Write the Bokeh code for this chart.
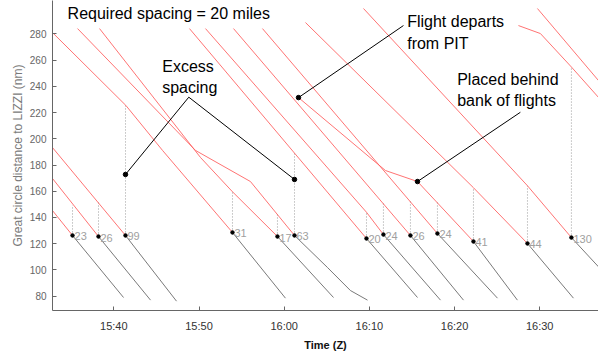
from bokeh.plotting import figure
from bokeh.models import FixedTicker, Range1d
from bokeh.core.properties import value
from bokeh.embed import file_html
from bokeh.resources import INLINE

FONT = "Liberation Sans"

# Time axis is minutes after 15:00 Z
time_ticks = [40, 50, 60, 70, 80, 90]
time_labels = ["15:40", "15:50", "16:00", "16:10", "16:20", "16:30"]
dist_ticks = [80, 100, 120, 140, 160, 180, 200, 220, 240, 260, 280]

# Each flight reaching the merge arc: crossing time, distance and in-trail spacing (nm)
merge_time = [35.15, 38.2, 41.37, 53.93, 59.21, 61.21, 69.66, 71.65, 74.82, 77.99, 82.22, 88.56, 93.72]
merge_dist = [126.3, 125.5, 126.3, 128.6, 125.5, 126.3, 124.0, 127.0, 126.3, 127.8, 121.7, 120.2, 124.7]
spacing = [23, 26, 99, 31, 17, 63, 20, 24, 26, 24, 41, 44, 130]

# Track before the merge arc (red)
approach_time = [
    [32.4],
    [32.4],
    [32.4],
    [32.4, 41.4, 45.72],
    [38.32, 50.18, 53.93],
    [35.74, 49.59, 56.04],
    [48.88],
    [50.76, 69.66],
    [54.05],
    [57.45],
    [61.68, 71.89, 75.65],
    [62.5, 82.22],
    [69.31, 88.56],
]
approach_dist = [
    [148.5],
    [173.0],
    [196.4],
    [283.5, 225.5, 191.1],
    [284.0, 185.7, 159.6],
    [284.0, 191.1, 167.4],
    [284.0],
    [284.0, 144.0],
    [284.0],
    [284.0],
    [231.4, 175.8, 167.4],
    [288.6, 162.7],
    [299.3, 164.2],
]

# Track after the merge arc (grey)
final_time = [
    [41.14], [44.31], [47.36], [60.15], [65.79],
    [65.08, 67.78, 69.78],
    [75.65], [78.35], [81.05], [85.04], [87.38], [93.96], [97.3],
]
final_dist = [
    [79.0], [77.0], [76.2], [78.5], [79.0],
    [101.9, 84.3, 77.0],
    [79.0], [77.0], [77.0], [78.5], [77.0], [78.5], [99.6],
]

# Flights still inbound at the end of the window
inbound_time = [[89.73, 97.3], [87.5, 90.08, 93.72, 97.3]]
inbound_dist = [[299.3, 241.3], [286.3, 280.2, 254.7, 228.6]]

# Call-out texts and leader lines
note_text = ["Required spacing = 20 miles", "Excess", "spacing",
             "Flight departs", "from PIT", "Placed behind", "bank of flights"]
note_x = [34.57, 45.68, 45.68, 74.44, 74.44, 80.31, 80.31]
note_y = [301.6, 261.9, 245.2, 296.2, 279.4, 252.0, 236.0]

leader_x0 = [48.8, 48.8, 74.0, 87.73]
leader_y0 = [231.7, 231.7, 286.3, 220.2]
leader_x1 = [41.37, 61.21, 61.68, 75.65]
leader_y1 = [172.8, 169.0, 231.4, 167.4]

red_xs = [t + [mt] for t, mt in zip(approach_time, merge_time)] + inbound_time
red_ys = [d + [md] for d, md in zip(approach_dist, merge_dist)] + inbound_dist
grey_xs = [[mt] + t for t, mt in zip(final_time, merge_time)]
grey_ys = [[md] + d for d, md in zip(final_dist, merge_dist)]

p = figure(width=598, height=353, output_backend="svg", toolbar_location=None,
           x_range=Range1d(32.8, 96.9), y_range=Range1d(69.1, 305.4),
           min_border_left=52, min_border_right=0, min_border_top=0, min_border_bottom=43)
p.outline_line_color = None
p.grid.grid_line_color = None
p.background_fill_color = "white"
p.border_fill_color = "white"

# spacing markers: vertical dotted line from each crossing up to the following flight
p.segment(x0=merge_time, y0=merge_dist, x1=merge_time,
          y1=[d + s for d, s in zip(merge_dist, spacing)],
          line_color="#9a9a9a", line_width=1, line_dash="1 2")

p.multi_line(xs=red_xs, ys=red_ys, line_color="#ff5a5a", line_width=1, line_alpha=0.85)
p.multi_line(xs=grey_xs, ys=grey_ys, line_color="#6a6a6a", line_width=1, line_alpha=0.9)

p.scatter(merge_time, merge_dist, size=3.5, color="black")
p.text(x=merge_time, y=merge_dist, text=[str(s) for s in spacing],
       text_font=value(FONT), text_font_size="11px", text_color="#a0a0a0",
       text_baseline="middle", text_align="left", x_offset=2, y_offset=1)

p.segment(x0=leader_x0, y0=leader_y0, x1=leader_x1, y1=leader_y1,
          line_color="black", line_width=1)
p.scatter(leader_x1, leader_y1, size=4.5, color="black")

p.text(x=note_x, y=note_y, text=note_text, text_font=value(FONT),
       text_font_size="16px", text_color="black", text_baseline="top", text_align="left")

xa = p.xaxis[0]
xa.ticker = FixedTicker(ticks=time_ticks)
xa.major_label_overrides = dict(zip(time_ticks, time_labels))
xa.axis_label = "Time (Z)"
xa.axis_label_text_font = FONT
xa.axis_label_text_font_style = "bold"
xa.axis_label_text_font_size = "11px"
xa.axis_label_text_color = "#111111"
xa.axis_label_standoff = 4
xa.major_label_text_font = FONT
xa.major_label_text_font_size = "11px"
xa.major_label_text_color = "#333333"
xa.major_label_standoff = 9

ya = p.yaxis[0]
ya.ticker = FixedTicker(ticks=dist_ticks)
ya.axis_label = "Great circle distance to LIZZI (nm)"
ya.axis_label_text_font = FONT
ya.axis_label_text_font_style = "normal"
ya.axis_label_text_font_size = "12px"
ya.axis_label_text_color = "#7a7a7a"
ya.axis_label_standoff = 2
ya.major_label_text_font = FONT
ya.major_label_text_font_size = "10px"
ya.major_label_text_color = "#666666"
ya.major_label_standoff = 6

for ax in (xa, ya):
    ax.axis_line_color = "#666666"
    ax.major_tick_line_color = "#666666"
    ax.major_tick_in = 4
    ax.major_tick_out = 0
    ax.minor_tick_line_color = None

open("out.html", "w").write(file_html(p, INLINE))
